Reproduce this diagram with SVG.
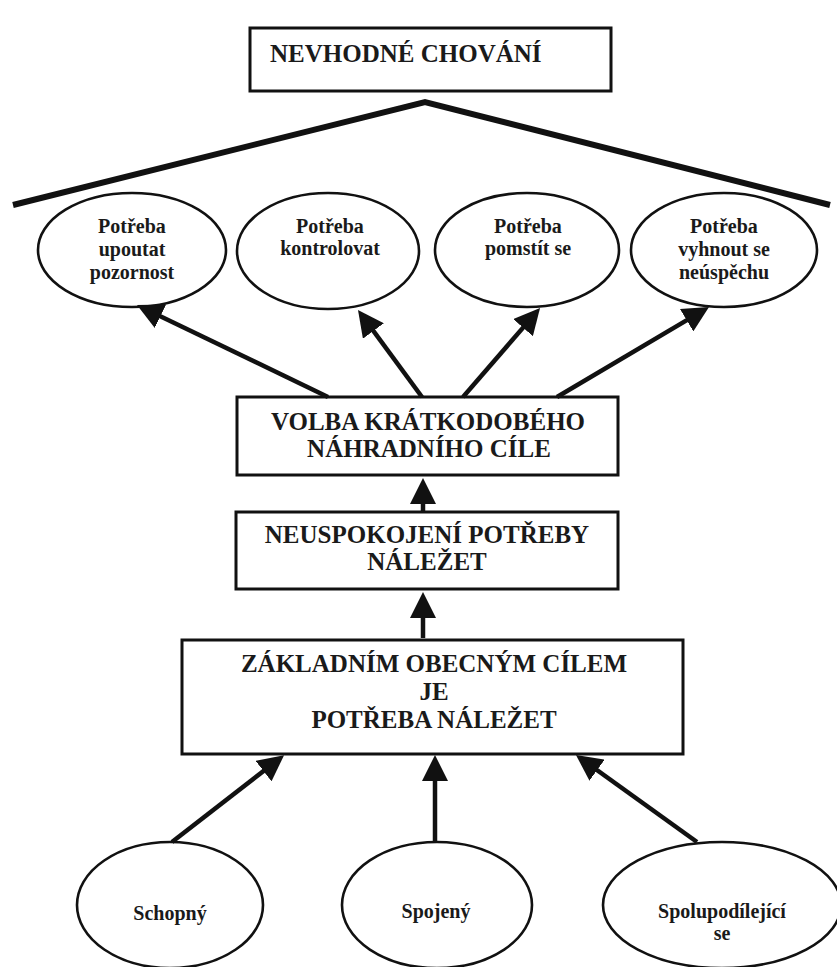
<svg xmlns="http://www.w3.org/2000/svg" width="837" height="967" viewBox="0 0 837 967">
<style>
  .box { fill: #ffffff; stroke: #111111; stroke-width: 3; }
  .ell { fill: #ffffff; stroke: #111111; stroke-width: 2.6; }
  .bt { font-family: "Liberation Serif", "Times New Roman", serif; font-weight: bold; font-size: 25px; fill: #1a1a1a; }
  .et { font-family: "Liberation Serif", "Times New Roman", serif; font-weight: bold; font-size: 20px; fill: #1a1a1a; text-anchor: middle; }
  .mid { text-anchor: middle; }
  .arr { stroke: #111111; stroke-width: 4.5; fill: none; marker-end: url(#ah); }
  .roof { stroke: #111111; stroke-width: 6; fill: none; stroke-linejoin: miter; }
</style>
<defs>
  <marker id="ah" viewBox="0 0 26 26" refX="14" refY="13" markerWidth="26" markerHeight="26" markerUnits="userSpaceOnUse" orient="auto">
    <path d="M0,0 L26,13 L0,26 z" fill="#111111"/>
  </marker>
</defs>
<rect width="837" height="967" fill="#ffffff"/>

<g id="node-nevhodne">
  <rect class="box" x="250" y="28" width="361" height="63"/>
  <text class="bt" x="270" y="62">NEVHODNÉ CHOVÁNÍ</text>
</g>

<g id="roof">
  <polyline class="roof" points="13,205 425,102 830,205"/>
</g>

<g id="node-upoutat">
  <ellipse class="ell" cx="132" cy="250" rx="94" ry="57"/>
  <text class="et" x="132" y="233">Potřeba</text>
  <text class="et" x="132" y="256">upoutat</text>
  <text class="et" x="132" y="279">pozornost</text>
</g>
<g id="node-kontrolovat">
  <ellipse class="ell" cx="328" cy="251" rx="91" ry="58"/>
  <text class="et" x="330" y="233">Potřeba</text>
  <text class="et" x="330" y="255">kontrolovat</text>
</g>
<g id="node-pomstit">
  <ellipse class="ell" cx="527" cy="250" rx="92" ry="57"/>
  <text class="et" x="528" y="233">Potřeba</text>
  <text class="et" x="528" y="255">pomstít se</text>
</g>
<g id="node-vyhnout">
  <ellipse class="ell" cx="724" cy="250" rx="93" ry="57"/>
  <text class="et" x="724" y="233">Potřeba</text>
  <text class="et" x="724" y="256">vyhnout se</text>
  <text class="et" x="724" y="279">neúspěchu</text>
</g>

<g id="node-volba">
  <rect class="box" x="237" y="397" width="381" height="78"/>
  <text class="bt mid" x="428" y="430">VOLBA KRÁTKODOBÉHO</text>
  <text class="bt mid" x="429" y="457">NÁHRADNÍHO CÍLE</text>
</g>
<g id="node-neuspokojeni">
  <rect class="box" x="236" y="512" width="382" height="77"/>
  <text class="bt mid" x="427" y="543">NEUSPOKOJENÍ POTŘEBY</text>
  <text class="bt mid" x="427" y="570">NÁLEŽET</text>
</g>
<g id="node-zakladnim">
  <rect class="box" x="182" y="640" width="501" height="114"/>
  <text class="bt mid" x="434" y="672">ZÁKLADNÍM OBECNÝM CÍLEM</text>
  <text class="bt mid" x="434" y="700">JE</text>
  <text class="bt mid" x="434" y="728">POTŘEBA NÁLEŽET</text>
</g>

<g id="node-schopny">
  <ellipse class="ell" cx="170" cy="905" rx="93" ry="63"/>
  <text class="et" x="170" y="920">Schopný</text>
</g>
<g id="node-spojeny">
  <ellipse class="ell" cx="437" cy="905" rx="95" ry="63"/>
  <text class="et" x="436" y="918">Spojený</text>
</g>
<g id="node-spolupodilejici">
  <ellipse class="ell" cx="722" cy="905" rx="119" ry="63"/>
  <text class="et" x="722" y="918">Spolupodílející</text>
  <text class="et" x="722" y="940">se</text>
</g>

<g id="connectors">
  <line class="arr" x1="328" y1="397" x2="147.8" y2="310.2"/>
  <line class="arr" x1="422" y1="397" x2="365.1" y2="319.7"/>
  <line class="arr" x1="463" y1="397" x2="532.2" y2="317.1"/>
  <line class="arr" x1="557" y1="397" x2="698.7" y2="313.1"/>
  <line class="arr" x1="423" y1="512" x2="423" y2="490"/>
  <line class="arr" x1="423" y1="638" x2="423" y2="604"/>
  <line class="arr" x1="172" y1="842" x2="274.6" y2="762.5"/>
  <line class="arr" x1="435" y1="842" x2="435" y2="767"/>
  <line class="arr" x1="697" y1="842" x2="585.7" y2="762"/>
</g>
</svg>
